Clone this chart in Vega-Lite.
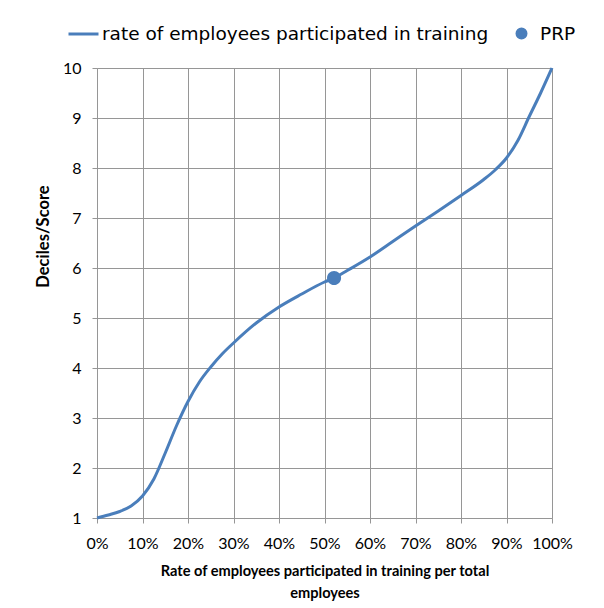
{
  "$schema": "https://vega.github.io/schema/vega-lite/v6.json",
  "width": 455,
  "height": 450,
  "autosize": {"type": "none"},
  "padding": {"left": 97, "top": 68, "right": 52, "bottom": 90},
  "background": "white",
  "config": {
    "font": "Lato",
    "view": {"stroke": null},
    "axis": {
      "gridColor": "#969696",
      "gridWidth": 1,
      "gridOpacity": 1,
      "domainColor": "#969696",
      "tickColor": "#969696",
      "tickSize": 5,
      "labelFont": "Lato",
      "labelFontSize": 16,
      "labelColor": "#000000",
      "labelOverlap": false,
      "labelFlush": false,
      "titleFont": "Lato",
      "titleFontWeight": "bold",
      "titleColor": "#000000"
    }
  },
  "data": {
    "values": [
      {"series": "rate of employees participated in training", "x": 0.0, "y": 1.0},
      {"series": "rate of employees participated in training", "x": 0.025, "y": 1.06},
      {"series": "rate of employees participated in training", "x": 0.05, "y": 1.13},
      {"series": "rate of employees participated in training", "x": 0.075, "y": 1.24},
      {"series": "rate of employees participated in training", "x": 0.1, "y": 1.44},
      {"series": "rate of employees participated in training", "x": 0.125, "y": 1.78},
      {"series": "rate of employees participated in training", "x": 0.15, "y": 2.3},
      {"series": "rate of employees participated in training", "x": 0.175, "y": 2.85},
      {"series": "rate of employees participated in training", "x": 0.2, "y": 3.33},
      {"series": "rate of employees participated in training", "x": 0.225, "y": 3.72},
      {"series": "rate of employees participated in training", "x": 0.25, "y": 4.02},
      {"series": "rate of employees participated in training", "x": 0.275, "y": 4.28},
      {"series": "rate of employees participated in training", "x": 0.3, "y": 4.5},
      {"series": "rate of employees participated in training", "x": 0.35, "y": 4.9},
      {"series": "rate of employees participated in training", "x": 0.4, "y": 5.22},
      {"series": "rate of employees participated in training", "x": 0.45, "y": 5.48},
      {"series": "rate of employees participated in training", "x": 0.5, "y": 5.72},
      {"series": "rate of employees participated in training", "x": 0.521, "y": 5.8},
      {"series": "rate of employees participated in training", "x": 0.55, "y": 5.95},
      {"series": "rate of employees participated in training", "x": 0.6, "y": 6.22},
      {"series": "rate of employees participated in training", "x": 0.65, "y": 6.53},
      {"series": "rate of employees participated in training", "x": 0.7, "y": 6.84},
      {"series": "rate of employees participated in training", "x": 0.75, "y": 7.14},
      {"series": "rate of employees participated in training", "x": 0.8, "y": 7.45},
      {"series": "rate of employees participated in training", "x": 0.85, "y": 7.77},
      {"series": "rate of employees participated in training", "x": 0.875, "y": 7.96},
      {"series": "rate of employees participated in training", "x": 0.9, "y": 8.2},
      {"series": "rate of employees participated in training", "x": 0.925, "y": 8.55},
      {"series": "rate of employees participated in training", "x": 0.95, "y": 9.03},
      {"series": "rate of employees participated in training", "x": 0.975, "y": 9.5},
      {"series": "rate of employees participated in training", "x": 1.0, "y": 10.0},
      {"series": "PRP", "x": 0.521, "y": 5.8}
    ]
  },
  "encoding": {
    "x": {
      "field": "x",
      "type": "quantitative",
      "scale": {"domain": [0, 1], "nice": false, "zero": false},
      "axis": {
        "values": [0, 0.1, 0.2, 0.3, 0.4, 0.5, 0.6, 0.7, 0.8, 0.9, 1],
        "format": ".0%",
        "labelPadding": 12,
        "title": ["Rate of employees participated in training per total", "employees"],
        "titleFontSize": 14.6,
        "titleLineHeight": 22,
        "titlePadding": 12
      }
    },
    "y": {
      "field": "y",
      "type": "quantitative",
      "scale": {"domain": [1, 10], "nice": false, "zero": false},
      "axis": {
        "values": [1, 2, 3, 4, 5, 6, 7, 8, 9, 10],
        "labelPadding": 11,
        "title": "Deciles/Score",
        "titleFontSize": 16.5,
        "titleX": -54,
        "titleY": 168,
        "titleAlign": "center",
        "titleBaseline": "middle",
        "titleAngle": -90
      }
    }
  },
  "layer": [
    {
      "transform": [{"filter": "datum.series !== 'PRP'"}],
      "mark": {"type": "line", "strokeWidth": 3, "interpolate": "monotone", "color": "#4A7EBB"},
      "encoding": {}
    },
    {
      "transform": [{"filter": "datum.series === 'PRP'"}],
      "mark": {"type": "point", "filled": true, "size": 2200, "opacity": 1},
      "encoding": {
        "color": {
          "field": "series",
          "type": "nominal",
          "sort": ["rate of employees participated in training", "PRP"],
          "scale": {"domain": ["rate of employees participated in training", "PRP"], "range": ["#4A7EBB", "#4A7EBB"]},
          "legend": {
            "title": null,
            "orient": "none",
            "legendX": -30,
            "legendY": -51,
            "direction": "horizontal",
            "labelFontSize": 18.5,
            "labelFont": "DejaVu Sans",
            "labelColor": "#000000",
            "labelLimit": 0,
            "labelOffset": 2,
            "columnPadding": 16,
            "symbolSize": 900,
            "symbolStrokeWidth": 3,
            "symbolStrokeColor": "#4A7EBB",
            "symbolFillColor": "#4A7EBB",
            "symbolOpacity": 1
          }
        },
        "shape": {
          "field": "series",
          "type": "nominal",
          "sort": ["rate of employees participated in training", "PRP"],
          "scale": {"domain": ["rate of employees participated in training", "PRP"], "range": ["M-1,0H1", "M-0.3,0A0.3,0.3,0,1,0,0.3,0A0.3,0.3,0,1,0,-0.3,0Z"]},
          "legend": {
            "title": null,
            "orient": "none",
            "legendX": -30,
            "legendY": -51,
            "direction": "horizontal",
            "labelFontSize": 18.5,
            "labelFont": "DejaVu Sans",
            "labelColor": "#000000",
            "labelLimit": 0,
            "labelOffset": 2,
            "columnPadding": 16,
            "symbolSize": 900,
            "symbolStrokeWidth": 3,
            "symbolStrokeColor": "#4A7EBB",
            "symbolFillColor": "#4A7EBB",
            "symbolOpacity": 1
          }
        }
      }
    }
  ]
}
